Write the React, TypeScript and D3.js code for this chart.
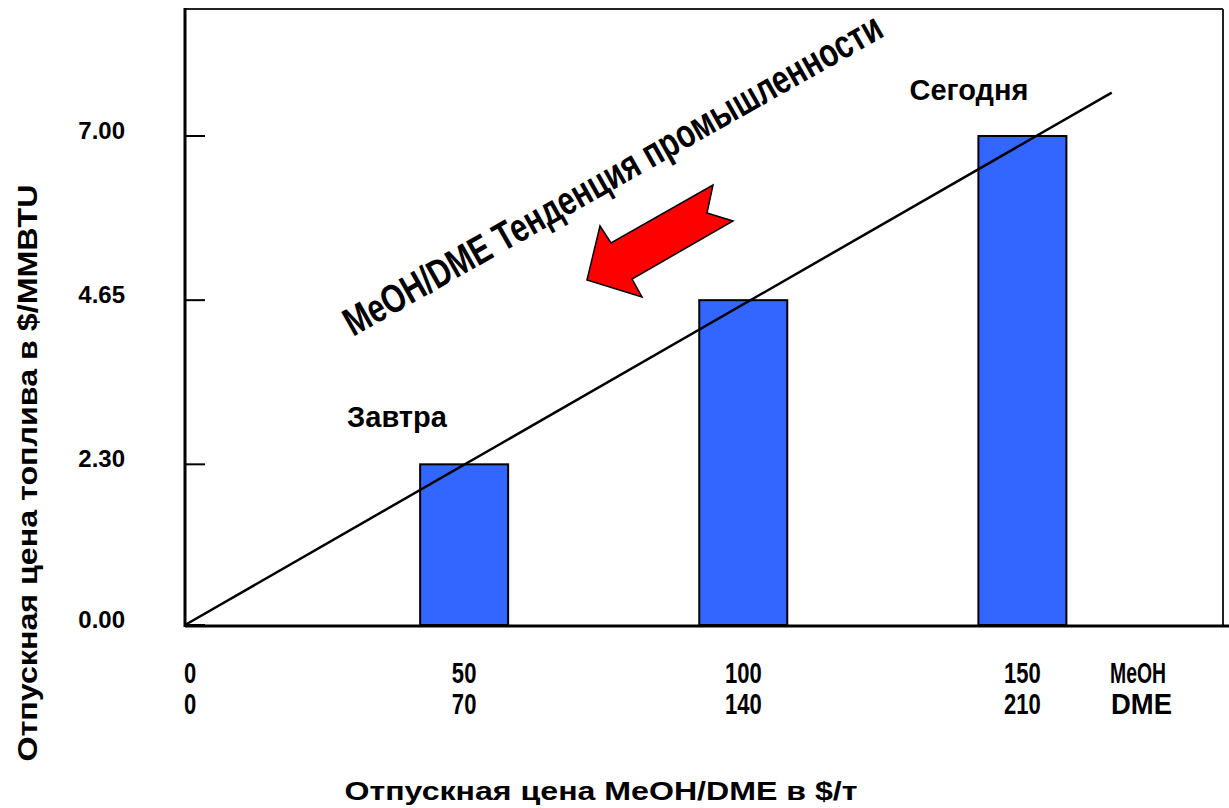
import React from "react";
import * as d3 from "d3";

// MeOH selling price ($/t) and matching DME price, with fuel price equivalents ($/MMBTU)
const meohPrices = [0, 50, 100, 150];
const dmePrices = [0, 70, 140, 210];
const barMeoh = [50, 100, 150];
const barFuel = [2.3, 4.65, 7.0];
const barLabels = ["Завтра", "", "Сегодня"];
const yTicks = [0, 2.3, 4.65, 7.0];
const trendMeoh = [0, 166];
const trendFuel = [0, 7.62];

const W = 1229;
const H = 808;
const FONT = "Liberation Sans, Arial, Helvetica, sans-serif";
const txt: React.CSSProperties = { fontFamily: FONT, fontWeight: 700 };

export default function App() {
  const x = d3.scaleLinear().domain([0, 150]).range([185, 1022.4]);
  const y = d3.scaleLinear().domain([0, 7]).range([625, 136]);
  const barW = 88;

  const trend = d3
    .line<number>()
    .x((_, i) => x(trendMeoh[i]))
    .y((_, i) => y(trendFuel[i]))(trendMeoh);

  // red arrow pointing down-left, toward lower prices
  const arrowPts: [number, number][] = [
    [587, 280],
    [600, 226],
    [611, 243],
    [713, 185],
    [707, 213],
    [733, 221],
    [632, 279],
    [642, 297],
  ];
  const arrow = d3.line()(arrowPts) + "Z";

  return (
    <svg
      width={W}
      height={H}
      style={{ position: "absolute", left: 0, top: 0, background: "#fff" }}
    >
      <rect x={0} y={0} width={W} height={H} fill="#fff" />

      {/* frame */}
      <line x1={185} y1={9} x2={1223} y2={9} stroke="#222" strokeWidth={2} />
      <line x1={1223} y1={9} x2={1223} y2={626} stroke="#222" strokeWidth={2} />
      <line x1={185} y1={626} x2={W} y2={626} stroke="#000" strokeWidth={3} />
      <line x1={185} y1={8} x2={185} y2={627} stroke="#000" strokeWidth={3} />

      {/* y ticks and labels */}
      {yTicks.map((t) => (
        <g key={t}>
          <line x1={185} x2={205} y1={y(t)} y2={y(t)} stroke="#000" strokeWidth={2} />
          <text
            x={125}
            y={y(t) - 6}
            textAnchor="end"
            dominantBaseline="central"
            fontSize={24}
            style={txt}
          >
            {t.toFixed(2)}
          </text>
        </g>
      ))}

      {/* bars */}
      {barMeoh.map((m, i) => (
        <rect
          key={m}
          x={x(m) - barW / 2}
          y={y(barFuel[i])}
          width={barW}
          height={y(0) - y(barFuel[i])}
          fill="#3366FF"
          stroke="#000"
          strokeWidth={2}
        />
      ))}

      {/* trend line */}
      <path d={trend ?? ""} fill="none" stroke="#000" strokeWidth={2.5} />

      {/* bar captions */}
      {barMeoh.map((m, i) =>
        barLabels[i] ? (
          <text
            key={"c" + m}
            x={i === 0 ? 397 : 969}
            y={i === 0 ? 427 : 100}
            textAnchor="middle"
            fontSize={29}
            style={txt}
          >
            {barLabels[i]}
          </text>
        ) : null
      )}

      {/* industry trend annotation */}
      <text
        transform="translate(353,337) rotate(-29.5)"
        fontSize={40}
        textLength={612}
        lengthAdjust="spacingAndGlyphs"
        style={txt}
      >
        MeOH/DME Тенденция промышленности
      </text>
      <path d={arrow} fill="#FF0000" stroke="#000" strokeWidth={1.5} strokeLinejoin="miter" />

      {/* x tick labels: MeOH row and DME row */}
      {meohPrices.map((m, i) => (
        <g key={"x" + m}>
          <text
            transform={`translate(${i === 0 ? 190 : x(m)},683) scale(0.76,1)`}
            textAnchor="middle"
            fontSize={29}
            style={txt}
          >
            {m}
          </text>
          <text
            transform={`translate(${i === 0 ? 190 : x(m)},714) scale(0.76,1)`}
            textAnchor="middle"
            fontSize={29}
            style={txt}
          >
            {dmePrices[i]}
          </text>
        </g>
      ))}
      <text x={1110} y={683} fontSize={29} textLength={56} lengthAdjust="spacingAndGlyphs" style={txt}>
        MeOH
      </text>
      <text x={1111} y={714} fontSize={29} textLength={61} lengthAdjust="spacingAndGlyphs" style={txt}>
        DME
      </text>

      {/* axis titles */}
      <text
        x={601}
        y={800}
        textAnchor="middle"
        fontSize={26}
        textLength={513}
        lengthAdjust="spacingAndGlyphs"
        style={txt}
      >
        Отпускная цена MeOH/DME в $/т
      </text>
      <text
        transform="translate(37,473) rotate(-90)"
        textAnchor="middle"
        fontSize={27}
        textLength={577}
        lengthAdjust="spacingAndGlyphs"
        style={txt}
      >
        Отпускная цена топлива в $/MMBTU
      </text>
    </svg>
  );
}
